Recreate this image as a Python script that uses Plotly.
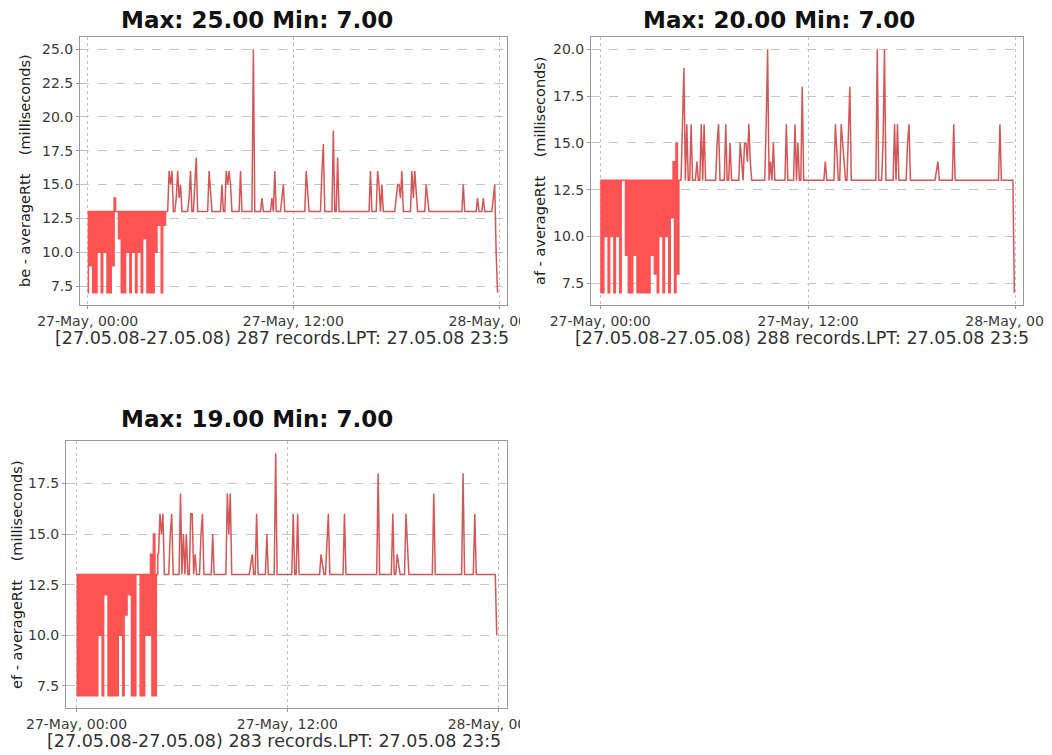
import pandas as pd
import plotly.graph_objects as go

# ---------------- data (5-minute samples, 27-May-2008) ----------------
times = pd.date_range("2008-05-27 00:00", periods=288, freq="5min")

be_rtt = [
    7, 13, 9, 13, 7, 13, 7, 13, 10, 13, 7, 13, 10, 13, 7, 13, 7, 13, 9, 14, 13, 13, 11, 13,
    7, 13, 7, 13, 10, 13, 7, 13, 10, 13, 7, 13, 10, 13, 7, 13, 11, 13, 7, 13, 7, 13, 7, 13,
    10, 13, 12, 13, 7, 13, 12, 13, 13, 16, 15, 16, 13, 13, 14, 16, 14, 15, 13, 13, 13, 13, 13, 14,
    16, 13, 13, 15, 17, 13, 13, 13, 13, 13, 13, 13, 13, 16, 14, 13, 13, 13, 13, 13, 13, 13, 15, 13,
    13, 16, 15, 16, 15, 13, 13, 13, 13, 13, 13, 16, 13, 13, 13, 13, 13, 13, 13, 13, 25, 13, 13, 13,
    13, 13, 14, 13, 13, 13, 13, 13, 13, 14, 13, 16, 13, 13, 13, 13, 14, 15, 13, 13, 13, 13, 13, 13,
    13, 13, 13, 13, 13, 13, 13, 13, 13, 16, 14, 13, 13, 13, 13, 13, 13, 13, 13, 13, 16, 18, 13, 13,
    13, 13, 13, 13, 19, 13, 13, 17, 13, 13, 13, 13, 13, 13, 13, 13, 13, 13, 13, 13, 13, 13, 13, 13,
    13, 13, 13, 13, 13, 13, 16, 13, 13, 13, 13, 16, 15, 13, 15, 13, 13, 13, 13, 13, 13, 13, 13, 13,
    14, 15, 15, 14, 16, 13, 13, 13, 13, 13, 13, 16, 14, 16, 14, 13, 13, 13, 13, 13, 13, 15, 14, 13,
    13, 13, 13, 13, 13, 13, 13, 13, 13, 13, 13, 13, 13, 13, 13, 13, 13, 13, 13, 13, 13, 13, 13, 15,
    13, 13, 13, 13, 13, 13, 13, 13, 13, 14, 13, 13, 13, 14, 13, 13, 13, 13, 13, 13, 14, 15, 10, 7,
]

af_rtt = [
    7, 13, 7, 13, 10, 13, 7, 13, 10, 13, 7, 13, 10, 13, 7, 13, 13, 13, 9, 13, 7, 13, 7, 13,
    9, 13, 7, 13, 7, 13, 7, 13, 7, 13, 7, 13, 9, 13, 8, 13, 7, 13, 10, 13, 7, 13, 10, 13,
    7, 13, 11, 14, 7, 15, 8, 13, 13, 16, 19, 13, 16, 13, 13, 16, 13, 13, 13, 14, 13, 13, 16, 13,
    16, 13, 13, 13, 13, 13, 13, 13, 13, 15, 16, 13, 13, 13, 13, 16, 13, 13, 15, 13, 13, 13, 13, 13,
    13, 15, 14, 13, 15, 15, 14, 16, 14, 13, 13, 13, 13, 13, 13, 13, 13, 13, 13, 16, 20, 13, 14, 13,
    15, 13, 13, 13, 13, 13, 13, 13, 13, 16, 13, 13, 13, 13, 13, 16, 13, 15, 13, 13, 18, 13, 13, 13,
    13, 13, 13, 13, 13, 13, 13, 13, 13, 13, 13, 13, 14, 13, 13, 13, 13, 13, 13, 16, 14, 13, 13, 16,
    15, 14, 13, 13, 15, 18, 13, 13, 13, 13, 13, 13, 13, 13, 13, 13, 13, 13, 13, 13, 13, 13, 13, 13,
    20, 13, 13, 13, 15, 20, 13, 13, 13, 13, 13, 13, 16, 13, 16, 13, 13, 13, 13, 13, 13, 15, 16, 13,
    13, 13, 13, 13, 13, 13, 13, 13, 13, 13, 13, 13, 13, 13, 13, 13, 13, 13.5, 14, 13, 13, 13, 13, 13,
    13, 13, 13, 13, 13, 16, 13, 13, 13, 13, 13, 13, 13, 13, 13, 13, 13, 13, 13, 13, 13, 13, 13, 13,
    13, 13, 13, 13, 13, 13, 13, 13, 13, 13, 13, 13, 13, 16, 13, 13, 13, 13, 13, 13, 13, 13, 13, 7,
]

ef_rtt = [
    7, 13, 7, 13, 7, 13, 7, 13, 7, 13, 7, 13, 7, 13, 7, 13, 10, 13, 7, 13, 12, 13, 7, 13,
    7, 13, 7, 13, 7, 13, 10, 13, 7, 13, 11, 13, 12, 13, 7, 13, 7, 13, 13, 13, 7, 13, 7, 13,
    10, 13, 10, 14, 7, 15, 7, 13, 14, 16, 15, 16, 13, 13, 13, 13, 15, 16, 13, 13, 13, 13, 13, 17,
    13, 15, 13, 15, 13, 13, 16, 16, 13, 14, 13, 13, 13, 15, 16, 13, 13, 13, 13, 13, 13, 15, 13, 13,
    13, 13, 13, 13, 13, 13, 13, 17, 15, 17, 13, 13, 13, 13, 13, 13, 13, 13, 13, 13, 13, 13, 13, 13.5,
    14, 13, 13, 16, 13, 13, 13, 13, 13, 13, 15, 13, 13, 13, 13, 13, 19, 13, 13, 13, 13, 13, 13, 13,
    13, 13, 13, 13, 16, 13, 13, 16, 13, 13, 13, 13, 13, 13, 13, 13, 13, 13, 13, 13, 13, 13, 13, 14,
    13.5, 13, 13, 14.5, 16, 13, 13, 13, 13, 13, 13, 13, 13, 13, 13, 16, 13, 13, 13, 13, 13, 13, 13, 13,
    13, 13, 13, 13, 13, 13, 13, 13, 13, 13, 13, 13, 13, 13, 18, 13, 13, 13, 13, 13, 13, 13, 13, 13,
    16, 13, 13, 14, 13.5, 13, 13, 13, 13, 16, 14.5, 13, 13, 13, 13, 13, 13, 13, 13, 13, 13, 13, 13, 13,
    13, 13, 13, 13, 17, 13, 13, 13, 13, 13, 13, 13, 13, 13, 13, 13, 13, 13, 13, 13, 13, 13, 13, 13,
    18, 13, 13, 13, 13, 13, 13, 13, 16, 13, 13, 13, 13, 13, 13, 13, 13, 13, 13, 13, 13, 13, 13, 10,
]

series_names = ["be - averageRtt", "af - averageRtt", "ef - averageRtt"]
titles = ["Max: 25.00 Min: 7.00", "Max: 20.00 Min: 7.00", "Max: 19.00 Min: 7.00"]
record_counts = [287, 288, 283]
x_tick_vals = ["2008-05-27 00:00", "2008-05-27 12:00", "2008-05-28 00:00"]
x_tick_text = ["27-May, 00:00", "27-May, 12:00", "28-May, 00:00"]

# ---------------- layout helpers ----------------
# the page body has an 8px margin, so the figure is offset by 8px in the window
OFF = 8
W, H = 1052 - OFF, 755 - OFF
def px_x(p):
    return (p - OFF) / W
def px_y(p):
    return 1 - (p - OFF) / H

DENSE_COLOR = "#FF5252"
LINE_COLOR = "#D45757"
GRID = "#c4c4c4"
FONT = "DejaVu Sans"
SPLIT = 56  # the early, rapidly alternating part is drawn with a step shape

fig = go.Figure()

panels = [
    dict(y=be_rtt, xa="x", ya="y", xd=(80, 507), yd=(37, 305), yr=(6.1, 25.9),
         xr=("2008-05-26 23:33", "2008-05-28 00:28"), ytx=25, yty=171, tx=257, ty=20.5, sx=53, sy=338),
    dict(y=af_rtt, xa="x2", ya="y2", xd=(591, 1023), yd=(37, 305), yr=(6.35, 20.65),
         xr=("2008-05-26 23:28", "2008-05-28 00:25"), ytx=540, yty=171, tx=779, ty=20.5, sx=573, sy=338),
    dict(y=ef_rtt, xa="x3", ya="y3", xd=(66, 507), yd=(441, 708), yr=(6.4, 19.6),
         xr=("2008-05-26 23:24", "2008-05-28 00:30"), ytx=17, yty=575, tx=257, ty=419, sx=45, sy=741),
]

annotations = []
for i, p in enumerate(panels):
    fig.add_trace(go.Scatter(
        x=times[:SPLIT + 1], y=p["y"][:SPLIT + 1], mode="lines", xaxis=p["xa"], yaxis=p["ya"],
        line=dict(color=DENSE_COLOR, width=1.5, shape="hvh"), showlegend=False, hoverinfo="skip",
    ))
    fig.add_trace(go.Scatter(
        x=times[SPLIT:], y=p["y"][SPLIT:], mode="lines", xaxis=p["xa"], yaxis=p["ya"],
        line=dict(color=LINE_COLOR, width=1.5), showlegend=False, hoverinfo="skip",
    ))
    xkey = "xaxis" if p["xa"] == "x" else "xaxis" + p["xa"][1:]
    ykey = "yaxis" if p["ya"] == "y" else "yaxis" + p["ya"][1:]
    fig.layout[xkey] = dict(
        domain=[px_x(p["xd"][0]), px_x(p["xd"][1])], anchor=p["ya"], type="date",
        range=list(p["xr"]), tickvals=x_tick_vals, ticktext=x_tick_text, automargin=False,
        ticklabeloverflow="allow",
        showgrid=True, gridcolor=GRID, griddash="dot", gridwidth=1,
        showline=True, mirror=True, linecolor="#9a9a9a", linewidth=1,
        ticks="outside", ticklen=3, tickcolor="#9a9a9a", zeroline=False,
        tickfont=dict(family=FONT, size=14, color="#3a3a3a"),
    )
    fig.layout[ykey] = dict(
        domain=[px_y(p["yd"][1]), px_y(p["yd"][0])], anchor=p["xa"], automargin=False,
        range=list(p["yr"]), tick0=0, dtick=2.5, tickformat=".1f",
        showgrid=True, gridcolor=GRID, griddash="dash", gridwidth=1,
        showline=True, mirror=True, linecolor="#9a9a9a", linewidth=1,
        ticks="outside", ticklen=3, tickcolor="#9a9a9a", zeroline=False,
        tickfont=dict(family=FONT, size=14, color="#3a3a3a"),
    )
    annotations.append(dict(
        text=titles[i], x=px_x(p["tx"]), y=px_y(p["ty"]), xref="paper", yref="paper",
        showarrow=False, xanchor="center", yanchor="middle",
        font=dict(family=FONT, size=23, color="#111111", weight="bold"),
    ))
    annotations.append(dict(
        text=series_names[i] + "\u00a0\u00a0\u00a0\u00a0(milliseconds)",
        x=px_x(p["ytx"]), y=px_y(p["yty"]), xref="paper", yref="paper", textangle=-90,
        showarrow=False, xanchor="center", yanchor="middle",
        font=dict(family=FONT, size=14.5, color="#222222"),
    ))
    annotations.append(dict(
        text=f"[27.05.08-27.05.08) {record_counts[i]} records.LPT: 27.05.08 23:5",
        x=px_x(p["sx"]), y=px_y(p["sy"]), xref="paper", yref="paper",
        showarrow=False, xanchor="left", yanchor="middle",
        font=dict(family=FONT, size=17.5, color="#333333"),
    ))

# white masks that crop the right-most tick labels like the original images
shapes = [
    dict(type="rect", xref="paper", yref="paper", layer="above",
         x0=px_x(520), x1=px_x(549.5), y0=px_y(332), y1=px_y(308),
         fillcolor="white", line=dict(width=0)),
    dict(type="rect", xref="paper", yref="paper", layer="above",
         x0=px_x(1046), x1=px_x(1080), y0=px_y(332), y1=px_y(308),
         fillcolor="white", line=dict(width=0)),
    dict(type="rect", xref="paper", yref="paper", layer="above",
         x0=px_x(520), x1=px_x(580), y0=px_y(734), y1=px_y(710),
         fillcolor="white", line=dict(width=0)),
]

fig.update_layout(
    width=W, height=H, margin=dict(l=0, r=0, t=0, b=0),
    paper_bgcolor="white", plot_bgcolor="white",
    annotations=annotations, shapes=shapes, showlegend=False,
)

fig.write_html("out.html")
